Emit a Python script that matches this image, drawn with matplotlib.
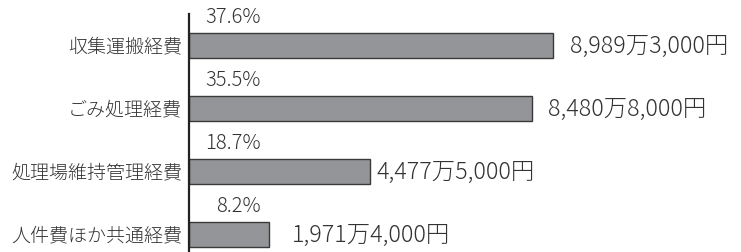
import matplotlib
matplotlib.use("Agg")
import matplotlib.pyplot as plt
import numpy as np

plt.rcParams['font.family'] = ['Noto Sans CJK JP', 'DejaVu Sans']

# 経費の内訳（単位：万円）
categories = ["収集運搬経費", "ごみ処理経費", "処理場維持管理経費", "人件費ほか共通経費"]
values = [8989.3, 8480.8, 4477.5, 1971.4]
shares = ["37.6%", "35.5%", "18.7%", "8.2%"]
value_labels = ["8,989万3,000円", "8,480万8,000円", "4,477万5,000円", "1,971万4,000円"]

text_col = "#333333"
bar_col = "#939598"

fig = plt.figure(figsize=(7.41, 2.53), dpi=100)
ax = fig.add_axes([189 / 741, 0, 1 - 189 / 741, 1])

y = np.arange(len(categories))
ax.barh(y, values, height=0.4, color=bar_col, edgecolor="#3a3a3a", linewidth=1.0)

ax.set_xlim(0, 552 / 0.0405)
ax.set_ylim(3.278, -0.738)

# label gaps after each bar end (pixels), as in the original layout
gaps = [17, 16, 6, 23]
for i in range(len(categories)):
    ax.annotate(value_labels[i], xy=(values[i], i), xytext=(gaps[i], 0),
                textcoords="offset pixels", ha="left", va="center",
                fontsize=16.8, color=text_col, fontweight="light")
    ax.annotate(shares[i], xy=(0, i), xycoords=("axes fraction", "data"),
                xytext=(72, 29), textcoords="offset pixels",
                ha="right", va="center", fontsize=14.5, color=text_col,
                fontweight="light")
    ax.annotate(categories[i], xy=(0, i), xycoords=("axes fraction", "data"),
                xytext=(-7, 0), textcoords="offset pixels",
                ha="right", va="center", fontsize=13.7, color=text_col,
                fontweight="light")

for s in ["top", "right", "bottom"]:
    ax.spines[s].set_visible(False)
ax.spines["left"].set_linewidth(1.6)
ax.spines["left"].set_color("#222222")
ax.spines["left"].set_bounds(-0.738 + 15 / 63, 3.278)
ax.set_xticks([])
ax.set_yticks([])

fig.savefig("out.png", dpi=100)
